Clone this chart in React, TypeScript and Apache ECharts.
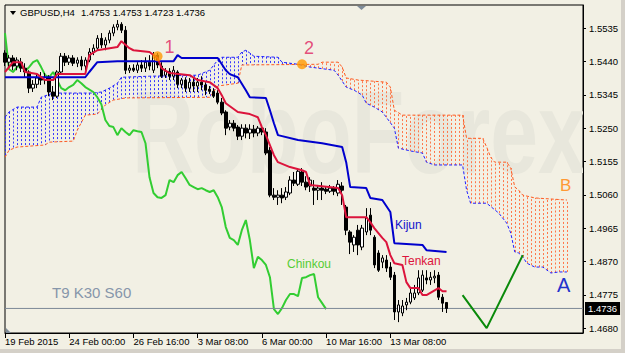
import React, { useEffect, useRef } from 'react';
import * as echarts from 'echarts';

const FONT = '"Liberation Sans", Arial, sans-serif';
const BG = '#f2f0e4';

const categoryCount = 145;
const xTickLabels = ['19 Feb 2015', '24 Feb 00:00', '26 Feb 16:00', '3 Mar 08:00', '6 Mar 00:00', '10 Mar 16:00', '13 Mar 08:00'];
const labelStep = 16;
const yTicks = [1.468, 1.4775, 1.487, 1.4965, 1.506, 1.5155, 1.525, 1.5345, 1.544, 1.5535];
const yMin = 1.4666;
const yMax = 1.5601;

// [open, close, low, high]
const candles = [
  [1.5464, 1.5438, 1.5427, 1.5472], [1.5438, 1.545, 1.5421, 1.5458], [1.545, 1.5427, 1.5415, 1.5458], [1.5427, 1.5444, 1.5415, 1.5452],
  [1.5438, 1.5421, 1.541, 1.545], [1.5421, 1.541, 1.5393, 1.5435], [1.541, 1.5364, 1.535, 1.5415], [1.5364, 1.5375, 1.5353, 1.5387],
  [1.5375, 1.5393, 1.5364, 1.5404], [1.5393, 1.5387, 1.5373, 1.541], [1.5387, 1.5395, 1.5375, 1.5407], [1.5395, 1.5353, 1.5341, 1.5401],
  [1.5353, 1.5341, 1.533, 1.537], [1.5341, 1.541, 1.5336, 1.5415], [1.541, 1.5455, 1.5404, 1.5464], [1.5455, 1.5438, 1.5427, 1.5464],
  [1.5438, 1.545, 1.543, 1.5458], [1.545, 1.5435, 1.5427, 1.5458], [1.5435, 1.5444, 1.5424, 1.5452], [1.5444, 1.5427, 1.5415, 1.5455],
  [1.5427, 1.5444, 1.5415, 1.5452], [1.5444, 1.5467, 1.5438, 1.5478], [1.5467, 1.5478, 1.5458, 1.5489], [1.5478, 1.5506, 1.5472, 1.5515],
  [1.5506, 1.5487, 1.5478, 1.5521], [1.5487, 1.5501, 1.5472, 1.5509], [1.5501, 1.5521, 1.5492, 1.5529], [1.5521, 1.5538, 1.5512, 1.5546],
  [1.5538, 1.5546, 1.5529, 1.5558], [1.5546, 1.5529, 1.5521, 1.5552], [1.5529, 1.5415, 1.5404, 1.5541], [1.5415, 1.5421, 1.5407, 1.543],
  [1.5421, 1.5415, 1.541, 1.5432], [1.5415, 1.543, 1.5407, 1.5438], [1.543, 1.5421, 1.541, 1.5444], [1.5421, 1.5438, 1.541, 1.5452],
  [1.5438, 1.5427, 1.5415, 1.5458], [1.5415, 1.5458, 1.5407, 1.5467], [1.5458, 1.543, 1.5421, 1.5464], [1.5427, 1.5398, 1.5393, 1.5438],
  [1.5401, 1.5412, 1.5393, 1.5421], [1.5412, 1.5398, 1.5387, 1.5421], [1.5398, 1.5415, 1.5387, 1.5427], [1.541, 1.5375, 1.5364, 1.5415],
  [1.5375, 1.5387, 1.5364, 1.5393], [1.5387, 1.5364, 1.5353, 1.5395], [1.5364, 1.5381, 1.5353, 1.5393], [1.5381, 1.537, 1.5353, 1.5393],
  [1.537, 1.5381, 1.5353, 1.5393], [1.5381, 1.5373, 1.5358, 1.5398], [1.5373, 1.5358, 1.5344, 1.5381], [1.5361, 1.5355, 1.5347, 1.537],
  [1.5355, 1.5341, 1.5336, 1.5364], [1.535, 1.5324, 1.5318, 1.5358], [1.5324, 1.5293, 1.5287, 1.5336], [1.5296, 1.525, 1.523, 1.5301],
  [1.5253, 1.5264, 1.5244, 1.5273], [1.5264, 1.525, 1.5241, 1.5273], [1.5253, 1.5227, 1.5216, 1.5259], [1.5227, 1.525, 1.5216, 1.5261],
  [1.525, 1.5236, 1.5221, 1.5261], [1.5236, 1.5247, 1.5219, 1.5261], [1.5247, 1.5236, 1.5224, 1.5259], [1.5236, 1.525, 1.5227, 1.5256],
  [1.525, 1.5239, 1.523, 1.5259], [1.5239, 1.5179, 1.5173, 1.525], [1.5187, 1.5059, 1.5053, 1.5196], [1.5059, 1.5053, 1.5045, 1.5079],
  [1.5053, 1.5059, 1.5031, 1.5073], [1.5059, 1.5051, 1.5036, 1.5079], [1.5053, 1.5068, 1.5045, 1.5082], [1.5065, 1.5102, 1.5059, 1.5113],
  [1.5102, 1.5093, 1.5085, 1.5125], [1.509, 1.5127, 1.5085, 1.5136], [1.5125, 1.5096, 1.5085, 1.5136], [1.5096, 1.5082, 1.5073, 1.5113],
  [1.5085, 1.5102, 1.5068, 1.511], [1.5079, 1.5073, 1.5031, 1.5102], [1.5073, 1.5079, 1.5045, 1.5088], [1.5079, 1.5073, 1.5045, 1.5096],
  [1.5076, 1.507, 1.5062, 1.5085], [1.507, 1.5079, 1.5065, 1.5088], [1.5079, 1.507, 1.5059, 1.5085], [1.5065, 1.509, 1.5056, 1.5102],
  [1.5085, 1.5073, 1.5031, 1.5096], [1.5025, 1.4959, 1.4945, 1.5031], [1.4954, 1.4925, 1.4891, 1.4959], [1.4917, 1.4939, 1.4897, 1.4945],
  [1.4959, 1.4917, 1.4888, 1.4974], [1.4911, 1.4965, 1.4902, 1.4974], [1.4954, 1.4994, 1.4945, 1.5022], [1.5002, 1.4959, 1.4945, 1.5022],
  [1.4939, 1.486, 1.4851, 1.4945], [1.4894, 1.4845, 1.484, 1.4902], [1.4868, 1.488, 1.4851, 1.4888], [1.4874, 1.4851, 1.484, 1.4888],
  [1.4854, 1.4825, 1.4817, 1.4868], [1.4831, 1.4726, 1.4703, 1.484], [1.4726, 1.4746, 1.4697, 1.476], [1.4723, 1.4743, 1.4714, 1.476],
  [1.4746, 1.4754, 1.4731, 1.4766], [1.4754, 1.478, 1.4748, 1.4794], [1.4766, 1.478, 1.476, 1.4803], [1.478, 1.4823, 1.4774, 1.4845],
  [1.4788, 1.4831, 1.4783, 1.4845], [1.4823, 1.4817, 1.4805, 1.4845], [1.4817, 1.4825, 1.4803, 1.484], [1.4823, 1.4828, 1.4808, 1.4845],
  [1.4831, 1.4768, 1.476, 1.484], [1.4768, 1.4751, 1.4726, 1.4777], [1.4753, 1.4736, 1.4723, 1.4753],
];

// [bar index, price]
const tenkan = [
  [0, 1.541], [2, 1.5438], [4, 1.5438], [5, 1.541], [8, 1.5404], [10, 1.5387], [12, 1.5387], [13, 1.5404], [20, 1.5404],
  [21, 1.5458], [23, 1.5472], [28, 1.5481], [29, 1.5498], [31, 1.5478], [32, 1.5472], [36, 1.5467], [38, 1.545], [39, 1.5421],
  [41, 1.5407], [46, 1.5401], [48, 1.5387], [51, 1.5381], [53, 1.5364], [54, 1.5344], [55, 1.5321], [58, 1.5296], [61, 1.529],
  [63, 1.5281], [64, 1.5253], [65, 1.523], [67, 1.5173], [68, 1.5153], [71, 1.5139], [74, 1.513], [75, 1.5125], [76, 1.5088],
  [83, 1.5079], [84, 1.5059], [85, 1.4996], [90, 1.4996], [91, 1.4982], [92, 1.4965], [94, 1.4937], [95, 1.4925], [96, 1.4888],
  [97, 1.4865], [99, 1.486], [100, 1.4811], [101, 1.4794], [103, 1.4794], [104, 1.4774], [105, 1.4774], [108, 1.4794],
  [109, 1.4785], [110, 1.4785],
];
const kijun = [
  [0, 1.5395], [20, 1.5395], [21, 1.541], [23, 1.5438], [28, 1.5441], [42, 1.5441], [43, 1.5458], [44, 1.545], [53, 1.545],
  [55, 1.5415], [56, 1.5404], [58, 1.5395], [60, 1.5358], [61, 1.5338], [65, 1.5336], [66, 1.5301], [67, 1.5264], [68, 1.523],
  [73, 1.5216], [79, 1.5207], [84, 1.5196], [85, 1.5153], [86, 1.5082], [90, 1.5079], [91, 1.5051], [94, 1.5045], [96, 1.5011],
  [97, 1.4922], [104, 1.4917], [105, 1.4902], [110, 1.4897],
];
const chinkou = [
  [0, 1.5521], [1, 1.5418], [2, 1.541], [3, 1.5424], [4, 1.543], [5, 1.5412], [6, 1.5424], [7, 1.5438], [8, 1.5444], [9, 1.5424],
  [10, 1.5401], [11, 1.5395], [12, 1.541], [13, 1.5387], [14, 1.5364], [15, 1.5358], [16, 1.5367], [17, 1.5373], [18, 1.5387],
  [19, 1.5378], [20, 1.5367], [22, 1.5353], [23, 1.5338], [24, 1.5318], [25, 1.5273], [26, 1.5256], [27, 1.5253], [28, 1.523],
  [29, 1.525], [30, 1.5239], [31, 1.523], [32, 1.5244], [33, 1.5241], [34, 1.5239], [35, 1.5207], [36, 1.511], [37, 1.5065],
  [38, 1.5053], [39, 1.5051], [40, 1.5059], [41, 1.5102], [42, 1.5096], [43, 1.5116], [44, 1.5125], [45, 1.5107], [46, 1.5088],
  [47, 1.5082], [48, 1.5076], [49, 1.5079], [50, 1.5073], [51, 1.5068], [52, 1.5073], [53, 1.5053], [54, 1.5025], [55, 1.4968],
  [56, 1.4937], [57, 1.4931], [58, 1.4917], [59, 1.4959], [60, 1.4988], [61, 1.4931], [62, 1.4851], [63, 1.4883], [64, 1.4874],
  [65, 1.486], [66, 1.4825], [67, 1.4734], [68, 1.472], [69, 1.4737], [70, 1.476], [71, 1.4777], [72, 1.4777], [73, 1.4771],
  [74, 1.4823], [75, 1.4825], [76, 1.4831], [77, 1.4834], [78, 1.4768], [79, 1.4751], [80, 1.4734],
];
const senkouA = [
  [0, 1.5281], [1, 1.5296], [3, 1.531], [8, 1.531], [9, 1.5338], [12, 1.535], [22, 1.535], [24, 1.5353], [26, 1.5364],
  [28, 1.5378], [29, 1.5395], [36, 1.5398], [48, 1.5401], [51, 1.5415], [53, 1.5444], [54, 1.5452], [58, 1.5452], [59, 1.5467],
  [60, 1.5472], [61, 1.5464], [62, 1.5455], [68, 1.5452], [69, 1.5438], [73, 1.5432], [76, 1.5424], [78, 1.5421], [82, 1.5415],
  [83, 1.5401], [85, 1.5367], [87, 1.5358], [89, 1.5344], [90, 1.5321], [92, 1.531], [94, 1.5296], [95, 1.5281], [97, 1.525],
  [98, 1.5193], [101, 1.5185], [104, 1.5179], [105, 1.5153], [107, 1.5145], [114, 1.5145], [115, 1.5073], [116, 1.5036],
  [120, 1.5036], [123, 1.5008], [125, 1.4979], [126, 1.4951], [127, 1.4897], [128, 1.4894], [129, 1.4883], [130, 1.4865],
  [132, 1.4854], [134, 1.4854], [136, 1.4837], [138, 1.484], [140, 1.484],
];
const senkouB = [
  [0, 1.5167], [1, 1.5187], [3, 1.5196], [10, 1.5202], [11, 1.521], [17, 1.5213], [18, 1.5244], [20, 1.5287], [23, 1.529],
  [25, 1.5316], [27, 1.533], [30, 1.5336], [51, 1.5338], [53, 1.537], [58, 1.5378], [59, 1.543], [78, 1.5432], [79, 1.5438],
  [83, 1.5438], [84, 1.5424], [85, 1.5393], [88, 1.5387], [95, 1.5381], [96, 1.5367], [97, 1.5301], [99, 1.5287], [114, 1.5287],
  [115, 1.5221], [119, 1.5221], [120, 1.5196], [121, 1.5167], [122, 1.5153], [125, 1.5153], [126, 1.5136], [127, 1.5082],
  [128, 1.5073], [129, 1.5059], [132, 1.5051], [140, 1.5045],
];
const forecast = [[114, 1.4774], [120, 1.468], [129, 1.4888]];
const markerPoints = [[38, 1.5455], [74, 1.5432]];
const markerNames = ['1', '2'];
const lastPrice = 1.4736;
const symbolTitle = 'GBPUSD,H4';
const ohlcTitle = '1.4753 1.4753 1.4723 1.4736';

function valueAt(pts: number[][], k: number): number {
  if (k <= pts[0][0]) return pts[0][1];
  for (let j = 1; j < pts.length; j++) {
    if (k <= pts[j][0]) {
      const [x0, y0] = pts[j - 1];
      const [x1, y1] = pts[j];
      return x1 === x0 ? y1 : y0 + ((y1 - y0) * (k - x0)) / (x1 - x0);
    }
  }
  return pts[pts.length - 1][1];
}

export default function App() {
  const ref = useRef<HTMLDivElement>(null);
  useEffect(() => {
    if (!ref.current) return;
    const chart = echarts.init(ref.current, null, { renderer: 'svg' });
    const categories = Array.from({ length: categoryCount }, (_, i) => String(i));
    const showIdx = (i: number) => i % labelStep === 0 && i / labelStep < xTickLabels.length;
    const cloudStart = senkouA[0][0];
    const cloudEnd = senkouA[senkouA.length - 1][0];
    const cloudIndex: number[][] = [];
    for (let k = cloudStart; k <= cloudEnd; k++) cloudIndex.push([k, valueAt(senkouA, k)]);

    const txt = (text: string, x: number, y: number, fill: string, size: number) => ({
      type: 'text',
      z: 10,
      silent: true,
      style: {
        text, x, y, fill,
        font: `${size}px ${FONT}`,
        textAlign: 'left', align: 'left',
        textVerticalAlign: 'middle', verticalAlign: 'middle',
      },
    });

    const option: any = {
      animation: false,
      backgroundColor: BG,
      grid: {
        left: 5, right: 42, top: 5, bottom: 20, show: true, borderColor: '#000', borderWidth: 1,
        backgroundColor: 'transparent', outerBoundsMode: 'none',
      },
      xAxis: {
        type: 'category', data: categories, boundaryGap: false,
        axisLine: { show: true, lineStyle: { color: '#000', width: 1 } },
        axisTick: { show: true, length: 5, interval: (i: number) => showIdx(i), lineStyle: { color: '#000' } },
        axisLabel: {
          interval: (i: number) => showIdx(i),
          formatter: (_v: string, i: number) => (showIdx(i) ? xTickLabels[i / labelStep] : ''),
          align: 'left', margin: 3, color: '#000', fontSize: 9.5, fontFamily: FONT,
        },
        splitLine: { show: false },
      },
      yAxis: {
        type: 'value', position: 'right', min: yMin, max: yMax,
        axisLine: { show: true, lineStyle: { color: '#000', width: 1 } },
        axisTick: { show: true, length: 3, customValues: yTicks, lineStyle: { color: '#000' } },
        axisLabel: {
          customValues: yTicks, formatter: (v: number) => v.toFixed(4), color: '#000', fontSize: 9.5,
          fontFamily: FONT, margin: 6,
        },
        splitLine: { show: false },
      },
      series: [
        {
          type: 'custom', name: 'cloud', z: 1, silent: true, clip: true,
          encode: { x: 0, y: 1 },
          data: cloudIndex,
          renderItem: (_p: any, api: any) => {
            const k = api.value(0);
            const a = valueAt(senkouA, k);
            const b = valueAt(senkouB, k);
            const pa = api.coord([k, a]);
            const pb = api.coord([k, b]);
            const x = Math.round(pa[0]) + 0.5;
            return {
              type: 'line',
              shape: { x1: x, y1: pa[1], x2: x, y2: pb[1] },
              style: { stroke: a >= b ? '#2b2bff' : '#ff7040', lineWidth: 1, lineDash: [2, 2], opacity: 0.95 },
            };
          },
        },
        {
          type: 'line', name: 'Senkou A', data: senkouA, z: 2, symbol: 'none', silent: true,
          lineStyle: { color: '#2020ff', width: 1, type: [3, 2] },
        },
        {
          type: 'line', name: 'Senkou B', data: senkouB, z: 2, symbol: 'none', silent: true,
          lineStyle: { color: '#ff5a1f', width: 1, type: [3, 2] },
        },
        {
          type: 'line', name: 'Chinkou', data: chinkou, z: 3, symbol: 'none', silent: true,
          lineStyle: { color: '#32cd32', width: 2 },
        },
        {
          type: 'line', name: 'bid', z: 3, symbol: 'none', silent: true,
          data: [[0, lastPrice], [categoryCount - 1, lastPrice]],
          lineStyle: { color: '#7d8896', width: 1 },
          endLabel: {
            show: true, distance: 2, formatter: lastPrice.toFixed(4),
            backgroundColor: '#000', color: '#fff', padding: [2, 3, 1, 3], fontSize: 9.5, fontFamily: FONT,
          },
        },
        {
          type: 'candlestick', name: 'GBPUSD', data: candles, z: 4, barWidth: 3, silent: true,
          itemStyle: { color: '#ffffff', color0: '#000000', borderColor: '#000000', borderColor0: '#000000', borderWidth: 1 },
        },
        {
          type: 'line', name: 'Kijun', data: kijun, z: 5, symbol: 'none', silent: true,
          lineStyle: { color: '#0000cd', width: 2 },
        },
        {
          type: 'line', name: 'Tenkan', data: tenkan, z: 5, symbol: 'none', silent: true,
          lineStyle: { color: '#dc143c', width: 2 },
        },
        {
          type: 'line', name: 'forecast', data: forecast, z: 6, symbol: 'none', silent: true,
          lineStyle: { color: '#0a8a0a', width: 2 },
        },
        {
          type: 'scatter', name: 'markers', z: 7, silent: true, symbolSize: 10,
          itemStyle: { color: '#ff9900' },
          data: markerPoints.map((p, i) => ({
            value: p,
            label: {
              show: true, formatter: markerNames[i], position: 'inside',
              offset: i === 0 ? [12, -9] : [7, -16],
              color: '#e0245e', fontSize: 18, fontFamily: FONT,
            },
          })),
        },
      ],
      graphic: [
        {
          type: 'group', x: 132, y: 133, scaleY: 1.35, z: -3, silent: true,
          children: [{
            type: 'text', style: {
              text: 'RoboForex', x: 0, y: 0, fill: '#e8e7dc', font: `bold 86px ${FONT}`,
              textAlign: 'left', align: 'left', textVerticalAlign: 'middle', verticalAlign: 'middle',
            },
          }],
        },
        { type: 'rect', z: -2, silent: true, shape: { x: 584, y: 0, width: 41, height: 353 }, style: { fill: BG } },
        { type: 'rect', z: -1, silent: true, shape: { x: 621, y: 0, width: 4, height: 353 }, style: { fill: '#d4d0c8' } },
        { type: 'rect', z: -1, silent: true, shape: { x: 0, y: 349, width: 625, height: 4 }, style: { fill: '#d4d0c8' } },
        { type: 'polygon', z: 10, silent: true, shape: { points: [[10, 11], [16, 11], [13, 15]] }, style: { fill: '#000' } },
        { type: 'polygon', z: 10, silent: true, shape: { points: [[357, 6], [366, 6], [361.5, 10]] }, style: { fill: '#7f8c99' } },
        { type: 'polygon', z: 10, silent: true, shape: { points: [[6, 328], [6, 333], [11, 333]] }, style: { fill: '#7f8c99' } },
        txt(symbolTitle, 20, 12.5, '#000', 9.5),
        txt(ohlcTitle, 81, 12.5, '#000', 9.5),
        txt('T9 K30 S60', 52, 292, '#8696aa', 15),
        txt('Chinkou', 287, 264, '#55cc33', 12),
        txt('Kijun', 395, 225, '#1111cc', 12),
        txt('Tenkan', 402, 261, '#dc143c', 12),
        txt('B', 560, 185, '#ff9933', 17),
        txt('A', 557, 285, '#2233cc', 20),
      ],
    };
    chart.setOption(option);
    return () => chart.dispose();
  }, []);
  return <div ref={ref} style={{ position: 'fixed', left: 0, top: 0, width: 625, height: 353 }} />;
}
